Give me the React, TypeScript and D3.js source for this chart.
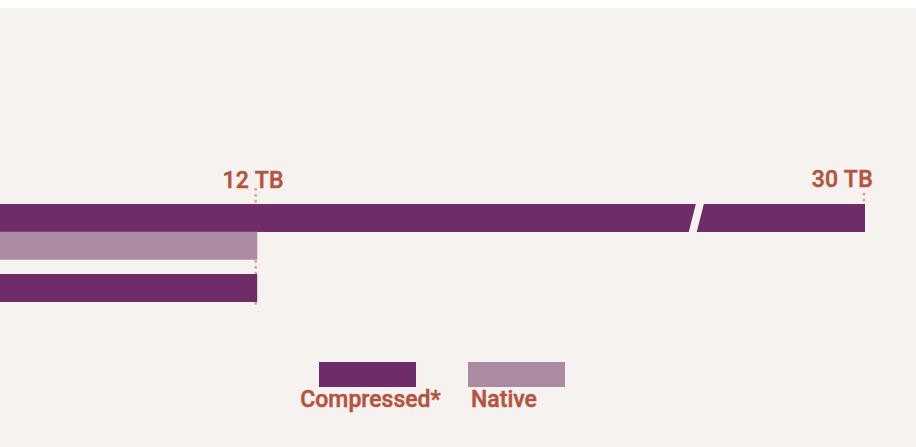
import React from "react";
import * as d3 from "d3";

const groups = ["Group A", "Group B"];
const seriesNames = ["Compressed*", "Native"];
const seriesColors = ["#6e2c68", "#ab8aa3"];
// values per group, per series (null = no bar)
const groupA = [30, 12];
const groupB = [12, null];
const tickValues = [12, 30];
const tickLabels = ["12 TB", "30 TB"];
const breakValue = 24.9;

const W = 916;
const H = 439;
const BG = "#f6f2ef";
const TEXT = "#b5533f";
const DOT = "#dea58c";
const FONT = "Roboto, 'Open Sans', sans-serif";

export default function App() {
  const x = d3.scaleLinear().domain([0, 30]).range([-148, 865]);
  const y = d3.scaleBand().domain(groups).range([196, 336]).paddingInner(0).paddingOuter(0);
  const sub = d3.scaleBand().domain(seriesNames).range([0, 55.5]);
  const barH = 28;
  const data = [groupA, groupB];

  const bars: { g: string; s: string; v: number; color: string }[] = [];
  data.forEach((vals, gi) => {
    vals.forEach((v, si) => {
      if (v != null) bars.push({ g: groups[gi], s: seriesNames[si], v, color: seriesColors[si] });
    });
  });

  const bx = x(breakValue);
  const by0 = (y(groups[0]) as number) - 1;
  const by1 = by0 + barH + 2;
  const slope = 8 / 28;
  const breakPts = [
    [bx + 3 + slope * 1, by0],
    [bx + 11 + slope * 1, by0],
    [bx + 4 - slope * 1, by1],
    [bx - 4 - slope * 1, by1],
  ];

  return (
    <svg width={W} height={H} style={{ display: "block", position: "absolute", left: 0, top: 8 }}>
      <rect x={0} y={0} width={W} height={H} fill={BG} />
      {/* dotted tick lines behind bars */}
      <line x1={x(12) - 1.5} x2={x(12) - 1.5} y1={181.3} y2={296} stroke={DOT} strokeWidth={3}
        strokeLinecap="round" strokeDasharray="0 6" />
      <line x1={x(30) - 1} x2={x(30) - 1} y1={186} y2={196} stroke={DOT} strokeWidth={3}
        strokeLinecap="round" strokeDasharray="0 6" />
      {bars.map((b, i) => (
        <rect key={i} x={x(0)} y={(y(b.g) as number) + (sub(b.s) as number)} width={x(b.v) - x(0)}
          height={barH} fill={b.color} />
      ))}
      <polygon points={breakPts.map((p) => p.join(",")).join(" ")} fill={BG} />
      {tickValues.map((t, i) => (
        <text key={t} x={i === 0 ? x(t) - 4 : x(t) + 8} y={i === 0 ? 180.3 : 178.7}
          textAnchor={i === 0 ? "middle" : "end"} fill={TEXT} stroke={TEXT} strokeWidth={0.5}
          fontFamily={FONT} fontWeight={500} fontSize={23} letterSpacing={0.3}>
          {tickLabels[i]}
        </text>
      ))}
      {/* legend */}
      {seriesNames.map((s, i) => (
        <g key={s}>
          <rect x={319 + i * 149} y={354} width={97} height={25} fill={seriesColors[i]} />
          <text x={i === 0 ? 370.5 : 471} y={398.5} textAnchor={i === 0 ? "middle" : "start"}
            fill={TEXT} stroke={TEXT} strokeWidth={0.5} fontFamily={FONT} fontWeight={500}
            fontSize={23}>
            {s}
          </text>
        </g>
      ))}
    </svg>
  );
}
